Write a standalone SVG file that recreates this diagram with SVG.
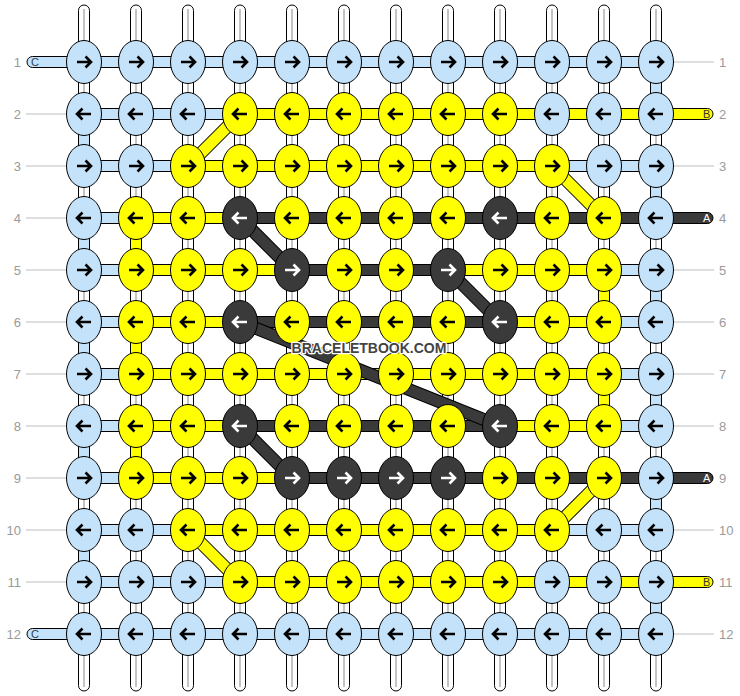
<svg xmlns="http://www.w3.org/2000/svg" xmlns:xlink="http://www.w3.org/1999/xlink" width="740" height="696" viewBox="0 0 740 696">
<style>
.warp{fill:#fff;stroke:#000;stroke-width:1}
.wl{stroke:#c4c4c4;stroke-width:2}
.bC{fill:#c4e3fb;stroke:#000;stroke-width:1}
.bY{fill:#ffff00;stroke:#000;stroke-width:1}
.bD{fill:#3a3a3a;stroke:#000;stroke-width:1}
.dk{stroke:#000;stroke-width:13}
.dY{stroke:#ffff00;stroke-width:11}
.dD{stroke:#3a3a3a;stroke-width:11}
.c{fill:#c4e3fb;stroke:#000;stroke-width:1}
.y{fill:#ffff00;stroke:#000;stroke-width:1}
.d{fill:#3a3a3a;stroke:#000;stroke-width:1}
.k{stroke:#000}
.w{stroke:#fff}
.lab{font-family:"Liberation Sans",Arial,sans-serif;font-size:13px;fill:#9a9a9a}
.gl{stroke:#bdbdbd;stroke-width:1}
.tl{font-family:"Liberation Sans",Arial,sans-serif;font-size:11px}
.wm{font-family:"Liberation Sans",Arial,sans-serif;font-size:14px;font-weight:bold;fill:#444;stroke:#fff;stroke-width:2.5;paint-order:stroke;stroke-linejoin:round}
</style>
<defs>
<path id="ar" d="M-7 0H6.5M1.5-5.5L7 0L1.5 5.5" fill="none" stroke-width="2.6"/>
<path id="al" d="M7 0H-6.5M-1.5-5.5L-7 0L-1.5 5.5" fill="none" stroke-width="2.6"/>
</defs>
<g id="labels">
<g class="gl">
<line x1="26" y1="114" x2="70" y2="114"/><line x1="26" y1="166" x2="70" y2="166"/><line x1="26" y1="218" x2="70" y2="218"/><line x1="26" y1="270" x2="70" y2="270"/><line x1="26" y1="322" x2="70" y2="322"/><line x1="26" y1="374" x2="70" y2="374"/><line x1="26" y1="426" x2="70" y2="426"/><line x1="26" y1="478" x2="70" y2="478"/><line x1="26" y1="530" x2="70" y2="530"/><line x1="26" y1="582" x2="70" y2="582"/>
<line x1="670" y1="62" x2="714" y2="62"/><line x1="670" y1="166" x2="714" y2="166"/><line x1="670" y1="270" x2="714" y2="270"/><line x1="670" y1="322" x2="714" y2="322"/><line x1="670" y1="374" x2="714" y2="374"/><line x1="670" y1="426" x2="714" y2="426"/><line x1="670" y1="530" x2="714" y2="530"/><line x1="670" y1="634" x2="714" y2="634"/>
</g>
<g class="lab" text-anchor="end">
<text x="21" y="67">1</text><text x="21" y="119">2</text><text x="21" y="171">3</text><text x="21" y="223">4</text><text x="21" y="275">5</text><text x="21" y="327">6</text><text x="21" y="379">7</text><text x="21" y="431">8</text><text x="21" y="483">9</text><text x="21" y="535">10</text><text x="21" y="587">11</text><text x="21" y="639">12</text>
</g>
<g class="lab">
<text x="719" y="67">1</text><text x="719" y="119">2</text><text x="719" y="171">3</text><text x="719" y="223">4</text><text x="719" y="275">5</text><text x="719" y="327">6</text><text x="719" y="379">7</text><text x="719" y="431">8</text><text x="719" y="483">9</text><text x="719" y="535">10</text><text x="719" y="587">11</text><text x="719" y="639">12</text>
</g>
</g>
<g id="connectors">
<g id="warps">
<rect class="warp" x="78.5" y="5" width="11" height="686" rx="5.5"/><rect class="warp" x="130.5" y="5" width="11" height="686" rx="5.5"/><rect class="warp" x="182.5" y="5" width="11" height="686" rx="5.5"/><rect class="warp" x="234.5" y="5" width="11" height="686" rx="5.5"/><rect class="warp" x="286.5" y="5" width="11" height="686" rx="5.5"/><rect class="warp" x="338.5" y="5" width="11" height="686" rx="5.5"/><rect class="warp" x="390.5" y="5" width="11" height="686" rx="5.5"/><rect class="warp" x="442.5" y="5" width="11" height="686" rx="5.5"/><rect class="warp" x="494.5" y="5" width="11" height="686" rx="5.5"/><rect class="warp" x="546.5" y="5" width="11" height="686" rx="5.5"/><rect class="warp" x="598.5" y="5" width="11" height="686" rx="5.5"/><rect class="warp" x="650.5" y="5" width="11" height="686" rx="5.5"/>
<g class="wl"><line x1="84" y1="9" x2="84" y2="687"/><line x1="136" y1="9" x2="136" y2="687"/><line x1="188" y1="9" x2="188" y2="687"/><line x1="240" y1="9" x2="240" y2="687"/><line x1="292" y1="9" x2="292" y2="687"/><line x1="344" y1="9" x2="344" y2="687"/><line x1="396" y1="9" x2="396" y2="687"/><line x1="448" y1="9" x2="448" y2="687"/><line x1="500" y1="9" x2="500" y2="687"/><line x1="552" y1="9" x2="552" y2="687"/><line x1="604" y1="9" x2="604" y2="687"/><line x1="656" y1="9" x2="656" y2="687"/></g>
</g>
<g id="threadC">
<rect class="bC" x="78.5" y="128" width="11" height="24"/><rect class="bC" x="78.5" y="232" width="11" height="24"/><rect class="bC" x="78.5" y="336" width="11" height="24"/><rect class="bC" x="78.5" y="440" width="11" height="24"/><rect class="bC" x="78.5" y="544" width="11" height="24"/>
<rect class="bC" x="650.5" y="76" width="11" height="24"/><rect class="bC" x="650.5" y="180" width="11" height="24"/><rect class="bC" x="650.5" y="284" width="11" height="24"/><rect class="bC" x="650.5" y="388" width="11" height="24"/><rect class="bC" x="650.5" y="492" width="11" height="24"/><rect class="bC" x="650.5" y="596" width="11" height="24"/>
<rect class="bC" x="27" y="56.5" width="629" height="11" rx="5.5"/>
<rect class="bC" x="84" y="108.5" width="156" height="11"/>
<rect class="bC" x="84" y="160.5" width="104" height="11"/><rect class="bC" x="552" y="160.5" width="104" height="11"/>
<rect class="bC" x="84" y="212.5" width="52" height="11"/>
<rect class="bC" x="84" y="264.5" width="52" height="11"/><rect class="bC" x="604" y="264.5" width="52" height="11"/>
<rect class="bC" x="84" y="316.5" width="52" height="11"/><rect class="bC" x="604" y="316.5" width="52" height="11"/>
<rect class="bC" x="84" y="368.5" width="52" height="11"/><rect class="bC" x="604" y="368.5" width="52" height="11"/>
<rect class="bC" x="84" y="420.5" width="52" height="11"/><rect class="bC" x="604" y="420.5" width="52" height="11"/>
<rect class="bC" x="84" y="472.5" width="52" height="11"/>
<rect class="bC" x="84" y="524.5" width="104" height="11"/><rect class="bC" x="552" y="524.5" width="104" height="11"/>
<rect class="bC" x="84" y="576.5" width="156" height="11"/>
<rect class="bC" x="27" y="628.5" width="629" height="11" rx="5.5"/>
</g>
<g id="threadB">
<rect class="bY" x="130.5" y="232" width="11" height="24"/><rect class="bY" x="130.5" y="336" width="11" height="24"/><rect class="bY" x="130.5" y="440" width="11" height="24"/>
<rect class="bY" x="598.5" y="284" width="11" height="24"/><rect class="bY" x="598.5" y="388" width="11" height="24"/>
<rect class="bY" x="240" y="108.5" width="473" height="11" rx="5.5"/>
<rect class="bY" x="188" y="160.5" width="364" height="11"/>
<rect class="bY" x="136" y="212.5" width="104" height="11"/>
<rect class="bY" x="136" y="264.5" width="156" height="11"/><rect class="bY" x="448" y="264.5" width="156" height="11"/>
<rect class="bY" x="136" y="316.5" width="104" height="11"/><rect class="bY" x="500" y="316.5" width="104" height="11"/>
<rect class="bY" x="136" y="368.5" width="468" height="11"/>
<rect class="bY" x="136" y="420.5" width="104" height="11"/><rect class="bY" x="500" y="420.5" width="104" height="11"/>
<rect class="bY" x="136" y="472.5" width="156" height="11"/>
<rect class="bY" x="188" y="524.5" width="364" height="11"/>
<rect class="bY" x="240" y="576.5" width="473" height="11" rx="5.5"/>
<g class="dk"><line x1="240" y1="114" x2="188" y2="166"/><line x1="552" y1="166" x2="604" y2="218"/><line x1="604" y1="478" x2="552" y2="530"/><line x1="188" y1="530" x2="240" y2="582"/></g>
<g class="dY"><line x1="240" y1="114" x2="188" y2="166"/><line x1="552" y1="166" x2="604" y2="218"/><line x1="604" y1="478" x2="552" y2="530"/><line x1="188" y1="530" x2="240" y2="582"/></g>
</g>
<g id="threadA">
<rect class="bD" x="240" y="212.5" width="473" height="11" rx="5.5"/>
<rect class="bD" x="292" y="264.5" width="156" height="11"/>
<rect class="bD" x="240" y="316.5" width="260" height="11"/>
<rect class="bD" x="240" y="420.5" width="260" height="11"/>
<rect class="bD" x="292" y="472.5" width="421" height="11" rx="5.5"/>
<g class="dk"><line x1="240" y1="218" x2="292" y2="270"/><line x1="448" y1="270" x2="500" y2="322"/><line x1="240" y1="322" x2="500" y2="426"/><line x1="240" y1="426" x2="292" y2="478"/></g>
<g class="dD"><line x1="240" y1="218" x2="292" y2="270"/><line x1="448" y1="270" x2="500" y2="322"/><line x1="240" y1="322" x2="500" y2="426"/><line x1="240" y1="426" x2="292" y2="478"/></g>
</g>
</g>
<g id="tail-labels" class="tl">
<text x="31" y="66" fill="#2c3e50">C</text>
<text x="31" y="638" fill="#2c3e50">C</text>
<text x="703" y="118" fill="#333">B</text>
<text x="703" y="586" fill="#333">B</text>
<text x="703" y="222" fill="#fff">A</text>
<text x="703" y="482" fill="#fff">A</text>
</g>
<g id="nodes">
<g id="r1c1"><ellipse class="c" cx="84" cy="62" rx="17.5" ry="21.5"/><use href="#ar" x="84" y="62" class="k"/></g>
<g id="r1c2"><ellipse class="c" cx="136" cy="62" rx="17.5" ry="21.5"/><use href="#ar" x="136" y="62" class="k"/></g>
<g id="r1c3"><ellipse class="c" cx="188" cy="62" rx="17.5" ry="21.5"/><use href="#ar" x="188" y="62" class="k"/></g>
<g id="r1c4"><ellipse class="c" cx="240" cy="62" rx="17.5" ry="21.5"/><use href="#ar" x="240" y="62" class="k"/></g>
<g id="r1c5"><ellipse class="c" cx="292" cy="62" rx="17.5" ry="21.5"/><use href="#ar" x="292" y="62" class="k"/></g>
<g id="r1c6"><ellipse class="c" cx="344" cy="62" rx="17.5" ry="21.5"/><use href="#ar" x="344" y="62" class="k"/></g>
<g id="r1c7"><ellipse class="c" cx="396" cy="62" rx="17.5" ry="21.5"/><use href="#ar" x="396" y="62" class="k"/></g>
<g id="r1c8"><ellipse class="c" cx="448" cy="62" rx="17.5" ry="21.5"/><use href="#ar" x="448" y="62" class="k"/></g>
<g id="r1c9"><ellipse class="c" cx="500" cy="62" rx="17.5" ry="21.5"/><use href="#ar" x="500" y="62" class="k"/></g>
<g id="r1c10"><ellipse class="c" cx="552" cy="62" rx="17.5" ry="21.5"/><use href="#ar" x="552" y="62" class="k"/></g>
<g id="r1c11"><ellipse class="c" cx="604" cy="62" rx="17.5" ry="21.5"/><use href="#ar" x="604" y="62" class="k"/></g>
<g id="r1c12"><ellipse class="c" cx="656" cy="62" rx="17.5" ry="21.5"/><use href="#ar" x="656" y="62" class="k"/></g>
<g id="r2c1"><ellipse class="c" cx="84" cy="114" rx="17.5" ry="21.5"/><use href="#al" x="84" y="114" class="k"/></g>
<g id="r2c2"><ellipse class="c" cx="136" cy="114" rx="17.5" ry="21.5"/><use href="#al" x="136" y="114" class="k"/></g>
<g id="r2c3"><ellipse class="c" cx="188" cy="114" rx="17.5" ry="21.5"/><use href="#al" x="188" y="114" class="k"/></g>
<g id="r2c4"><ellipse class="y" cx="240" cy="114" rx="17.5" ry="21.5"/><use href="#al" x="240" y="114" class="k"/></g>
<g id="r2c5"><ellipse class="y" cx="292" cy="114" rx="17.5" ry="21.5"/><use href="#al" x="292" y="114" class="k"/></g>
<g id="r2c6"><ellipse class="y" cx="344" cy="114" rx="17.5" ry="21.5"/><use href="#al" x="344" y="114" class="k"/></g>
<g id="r2c7"><ellipse class="y" cx="396" cy="114" rx="17.5" ry="21.5"/><use href="#al" x="396" y="114" class="k"/></g>
<g id="r2c8"><ellipse class="y" cx="448" cy="114" rx="17.5" ry="21.5"/><use href="#al" x="448" y="114" class="k"/></g>
<g id="r2c9"><ellipse class="y" cx="500" cy="114" rx="17.5" ry="21.5"/><use href="#al" x="500" y="114" class="k"/></g>
<g id="r2c10"><ellipse class="c" cx="552" cy="114" rx="17.5" ry="21.5"/><use href="#al" x="552" y="114" class="k"/></g>
<g id="r2c11"><ellipse class="c" cx="604" cy="114" rx="17.5" ry="21.5"/><use href="#al" x="604" y="114" class="k"/></g>
<g id="r2c12"><ellipse class="c" cx="656" cy="114" rx="17.5" ry="21.5"/><use href="#al" x="656" y="114" class="k"/></g>
<g id="r3c1"><ellipse class="c" cx="84" cy="166" rx="17.5" ry="21.5"/><use href="#ar" x="84" y="166" class="k"/></g>
<g id="r3c2"><ellipse class="c" cx="136" cy="166" rx="17.5" ry="21.5"/><use href="#ar" x="136" y="166" class="k"/></g>
<g id="r3c3"><ellipse class="y" cx="188" cy="166" rx="17.5" ry="21.5"/><use href="#ar" x="188" y="166" class="k"/></g>
<g id="r3c4"><ellipse class="y" cx="240" cy="166" rx="17.5" ry="21.5"/><use href="#ar" x="240" y="166" class="k"/></g>
<g id="r3c5"><ellipse class="y" cx="292" cy="166" rx="17.5" ry="21.5"/><use href="#ar" x="292" y="166" class="k"/></g>
<g id="r3c6"><ellipse class="y" cx="344" cy="166" rx="17.5" ry="21.5"/><use href="#ar" x="344" y="166" class="k"/></g>
<g id="r3c7"><ellipse class="y" cx="396" cy="166" rx="17.5" ry="21.5"/><use href="#ar" x="396" y="166" class="k"/></g>
<g id="r3c8"><ellipse class="y" cx="448" cy="166" rx="17.5" ry="21.5"/><use href="#ar" x="448" y="166" class="k"/></g>
<g id="r3c9"><ellipse class="y" cx="500" cy="166" rx="17.5" ry="21.5"/><use href="#ar" x="500" y="166" class="k"/></g>
<g id="r3c10"><ellipse class="y" cx="552" cy="166" rx="17.5" ry="21.5"/><use href="#ar" x="552" y="166" class="k"/></g>
<g id="r3c11"><ellipse class="c" cx="604" cy="166" rx="17.5" ry="21.5"/><use href="#ar" x="604" y="166" class="k"/></g>
<g id="r3c12"><ellipse class="c" cx="656" cy="166" rx="17.5" ry="21.5"/><use href="#ar" x="656" y="166" class="k"/></g>
<g id="r4c1"><ellipse class="c" cx="84" cy="218" rx="17.5" ry="21.5"/><use href="#al" x="84" y="218" class="k"/></g>
<g id="r4c2"><ellipse class="y" cx="136" cy="218" rx="17.5" ry="21.5"/><use href="#al" x="136" y="218" class="k"/></g>
<g id="r4c3"><ellipse class="y" cx="188" cy="218" rx="17.5" ry="21.5"/><use href="#al" x="188" y="218" class="k"/></g>
<g id="r4c4"><ellipse class="d" cx="240" cy="218" rx="17.5" ry="21.5"/><use href="#al" x="240" y="218" class="w"/></g>
<g id="r4c5"><ellipse class="y" cx="292" cy="218" rx="17.5" ry="21.5"/><use href="#al" x="292" y="218" class="k"/></g>
<g id="r4c6"><ellipse class="y" cx="344" cy="218" rx="17.5" ry="21.5"/><use href="#al" x="344" y="218" class="k"/></g>
<g id="r4c7"><ellipse class="y" cx="396" cy="218" rx="17.5" ry="21.5"/><use href="#al" x="396" y="218" class="k"/></g>
<g id="r4c8"><ellipse class="y" cx="448" cy="218" rx="17.5" ry="21.5"/><use href="#al" x="448" y="218" class="k"/></g>
<g id="r4c9"><ellipse class="d" cx="500" cy="218" rx="17.5" ry="21.5"/><use href="#al" x="500" y="218" class="w"/></g>
<g id="r4c10"><ellipse class="y" cx="552" cy="218" rx="17.5" ry="21.5"/><use href="#al" x="552" y="218" class="k"/></g>
<g id="r4c11"><ellipse class="y" cx="604" cy="218" rx="17.5" ry="21.5"/><use href="#al" x="604" y="218" class="k"/></g>
<g id="r4c12"><ellipse class="c" cx="656" cy="218" rx="17.5" ry="21.5"/><use href="#al" x="656" y="218" class="k"/></g>
<g id="r5c1"><ellipse class="c" cx="84" cy="270" rx="17.5" ry="21.5"/><use href="#ar" x="84" y="270" class="k"/></g>
<g id="r5c2"><ellipse class="y" cx="136" cy="270" rx="17.5" ry="21.5"/><use href="#ar" x="136" y="270" class="k"/></g>
<g id="r5c3"><ellipse class="y" cx="188" cy="270" rx="17.5" ry="21.5"/><use href="#ar" x="188" y="270" class="k"/></g>
<g id="r5c4"><ellipse class="y" cx="240" cy="270" rx="17.5" ry="21.5"/><use href="#ar" x="240" y="270" class="k"/></g>
<g id="r5c5"><ellipse class="d" cx="292" cy="270" rx="17.5" ry="21.5"/><use href="#ar" x="292" y="270" class="w"/></g>
<g id="r5c6"><ellipse class="y" cx="344" cy="270" rx="17.5" ry="21.5"/><use href="#ar" x="344" y="270" class="k"/></g>
<g id="r5c7"><ellipse class="y" cx="396" cy="270" rx="17.5" ry="21.5"/><use href="#ar" x="396" y="270" class="k"/></g>
<g id="r5c8"><ellipse class="d" cx="448" cy="270" rx="17.5" ry="21.5"/><use href="#ar" x="448" y="270" class="w"/></g>
<g id="r5c9"><ellipse class="y" cx="500" cy="270" rx="17.5" ry="21.5"/><use href="#ar" x="500" y="270" class="k"/></g>
<g id="r5c10"><ellipse class="y" cx="552" cy="270" rx="17.5" ry="21.5"/><use href="#ar" x="552" y="270" class="k"/></g>
<g id="r5c11"><ellipse class="y" cx="604" cy="270" rx="17.5" ry="21.5"/><use href="#ar" x="604" y="270" class="k"/></g>
<g id="r5c12"><ellipse class="c" cx="656" cy="270" rx="17.5" ry="21.5"/><use href="#ar" x="656" y="270" class="k"/></g>
<g id="r6c1"><ellipse class="c" cx="84" cy="322" rx="17.5" ry="21.5"/><use href="#al" x="84" y="322" class="k"/></g>
<g id="r6c2"><ellipse class="y" cx="136" cy="322" rx="17.5" ry="21.5"/><use href="#al" x="136" y="322" class="k"/></g>
<g id="r6c3"><ellipse class="y" cx="188" cy="322" rx="17.5" ry="21.5"/><use href="#al" x="188" y="322" class="k"/></g>
<g id="r6c4"><ellipse class="d" cx="240" cy="322" rx="17.5" ry="21.5"/><use href="#al" x="240" y="322" class="w"/></g>
<g id="r6c5"><ellipse class="y" cx="292" cy="322" rx="17.5" ry="21.5"/><use href="#al" x="292" y="322" class="k"/></g>
<g id="r6c6"><ellipse class="y" cx="344" cy="322" rx="17.5" ry="21.5"/><use href="#al" x="344" y="322" class="k"/></g>
<g id="r6c7"><ellipse class="y" cx="396" cy="322" rx="17.5" ry="21.5"/><use href="#al" x="396" y="322" class="k"/></g>
<g id="r6c8"><ellipse class="y" cx="448" cy="322" rx="17.5" ry="21.5"/><use href="#al" x="448" y="322" class="k"/></g>
<g id="r6c9"><ellipse class="d" cx="500" cy="322" rx="17.5" ry="21.5"/><use href="#al" x="500" y="322" class="w"/></g>
<g id="r6c10"><ellipse class="y" cx="552" cy="322" rx="17.5" ry="21.5"/><use href="#al" x="552" y="322" class="k"/></g>
<g id="r6c11"><ellipse class="y" cx="604" cy="322" rx="17.5" ry="21.5"/><use href="#al" x="604" y="322" class="k"/></g>
<g id="r6c12"><ellipse class="c" cx="656" cy="322" rx="17.5" ry="21.5"/><use href="#al" x="656" y="322" class="k"/></g>
<g id="r7c1"><ellipse class="c" cx="84" cy="374" rx="17.5" ry="21.5"/><use href="#ar" x="84" y="374" class="k"/></g>
<g id="r7c2"><ellipse class="y" cx="136" cy="374" rx="17.5" ry="21.5"/><use href="#ar" x="136" y="374" class="k"/></g>
<g id="r7c3"><ellipse class="y" cx="188" cy="374" rx="17.5" ry="21.5"/><use href="#ar" x="188" y="374" class="k"/></g>
<g id="r7c4"><ellipse class="y" cx="240" cy="374" rx="17.5" ry="21.5"/><use href="#ar" x="240" y="374" class="k"/></g>
<g id="r7c5"><ellipse class="y" cx="292" cy="374" rx="17.5" ry="21.5"/><use href="#ar" x="292" y="374" class="k"/></g>
<g id="r7c6"><ellipse class="y" cx="344" cy="374" rx="17.5" ry="21.5"/><use href="#ar" x="344" y="374" class="k"/></g>
<g id="r7c7"><ellipse class="y" cx="396" cy="374" rx="17.5" ry="21.5"/><use href="#ar" x="396" y="374" class="k"/></g>
<g id="r7c8"><ellipse class="y" cx="448" cy="374" rx="17.5" ry="21.5"/><use href="#ar" x="448" y="374" class="k"/></g>
<g id="r7c9"><ellipse class="y" cx="500" cy="374" rx="17.5" ry="21.5"/><use href="#ar" x="500" y="374" class="k"/></g>
<g id="r7c10"><ellipse class="y" cx="552" cy="374" rx="17.5" ry="21.5"/><use href="#ar" x="552" y="374" class="k"/></g>
<g id="r7c11"><ellipse class="y" cx="604" cy="374" rx="17.5" ry="21.5"/><use href="#ar" x="604" y="374" class="k"/></g>
<g id="r7c12"><ellipse class="c" cx="656" cy="374" rx="17.5" ry="21.5"/><use href="#ar" x="656" y="374" class="k"/></g>
<g id="r8c1"><ellipse class="c" cx="84" cy="426" rx="17.5" ry="21.5"/><use href="#al" x="84" y="426" class="k"/></g>
<g id="r8c2"><ellipse class="y" cx="136" cy="426" rx="17.5" ry="21.5"/><use href="#al" x="136" y="426" class="k"/></g>
<g id="r8c3"><ellipse class="y" cx="188" cy="426" rx="17.5" ry="21.5"/><use href="#al" x="188" y="426" class="k"/></g>
<g id="r8c4"><ellipse class="d" cx="240" cy="426" rx="17.5" ry="21.5"/><use href="#al" x="240" y="426" class="w"/></g>
<g id="r8c5"><ellipse class="y" cx="292" cy="426" rx="17.5" ry="21.5"/><use href="#al" x="292" y="426" class="k"/></g>
<g id="r8c6"><ellipse class="y" cx="344" cy="426" rx="17.5" ry="21.5"/><use href="#al" x="344" y="426" class="k"/></g>
<g id="r8c7"><ellipse class="y" cx="396" cy="426" rx="17.5" ry="21.5"/><use href="#al" x="396" y="426" class="k"/></g>
<g id="r8c8"><ellipse class="y" cx="448" cy="426" rx="17.5" ry="21.5"/><use href="#al" x="448" y="426" class="k"/></g>
<g id="r8c9"><ellipse class="d" cx="500" cy="426" rx="17.5" ry="21.5"/><use href="#al" x="500" y="426" class="w"/></g>
<g id="r8c10"><ellipse class="y" cx="552" cy="426" rx="17.5" ry="21.5"/><use href="#al" x="552" y="426" class="k"/></g>
<g id="r8c11"><ellipse class="y" cx="604" cy="426" rx="17.5" ry="21.5"/><use href="#al" x="604" y="426" class="k"/></g>
<g id="r8c12"><ellipse class="c" cx="656" cy="426" rx="17.5" ry="21.5"/><use href="#al" x="656" y="426" class="k"/></g>
<g id="r9c1"><ellipse class="c" cx="84" cy="478" rx="17.5" ry="21.5"/><use href="#ar" x="84" y="478" class="k"/></g>
<g id="r9c2"><ellipse class="y" cx="136" cy="478" rx="17.5" ry="21.5"/><use href="#ar" x="136" y="478" class="k"/></g>
<g id="r9c3"><ellipse class="y" cx="188" cy="478" rx="17.5" ry="21.5"/><use href="#ar" x="188" y="478" class="k"/></g>
<g id="r9c4"><ellipse class="y" cx="240" cy="478" rx="17.5" ry="21.5"/><use href="#ar" x="240" y="478" class="k"/></g>
<g id="r9c5"><ellipse class="d" cx="292" cy="478" rx="17.5" ry="21.5"/><use href="#ar" x="292" y="478" class="w"/></g>
<g id="r9c6"><ellipse class="d" cx="344" cy="478" rx="17.5" ry="21.5"/><use href="#ar" x="344" y="478" class="w"/></g>
<g id="r9c7"><ellipse class="d" cx="396" cy="478" rx="17.5" ry="21.5"/><use href="#ar" x="396" y="478" class="w"/></g>
<g id="r9c8"><ellipse class="d" cx="448" cy="478" rx="17.5" ry="21.5"/><use href="#ar" x="448" y="478" class="w"/></g>
<g id="r9c9"><ellipse class="y" cx="500" cy="478" rx="17.5" ry="21.5"/><use href="#ar" x="500" y="478" class="k"/></g>
<g id="r9c10"><ellipse class="y" cx="552" cy="478" rx="17.5" ry="21.5"/><use href="#ar" x="552" y="478" class="k"/></g>
<g id="r9c11"><ellipse class="y" cx="604" cy="478" rx="17.5" ry="21.5"/><use href="#ar" x="604" y="478" class="k"/></g>
<g id="r9c12"><ellipse class="c" cx="656" cy="478" rx="17.5" ry="21.5"/><use href="#ar" x="656" y="478" class="k"/></g>
<g id="r10c1"><ellipse class="c" cx="84" cy="530" rx="17.5" ry="21.5"/><use href="#al" x="84" y="530" class="k"/></g>
<g id="r10c2"><ellipse class="c" cx="136" cy="530" rx="17.5" ry="21.5"/><use href="#al" x="136" y="530" class="k"/></g>
<g id="r10c3"><ellipse class="y" cx="188" cy="530" rx="17.5" ry="21.5"/><use href="#al" x="188" y="530" class="k"/></g>
<g id="r10c4"><ellipse class="y" cx="240" cy="530" rx="17.5" ry="21.5"/><use href="#al" x="240" y="530" class="k"/></g>
<g id="r10c5"><ellipse class="y" cx="292" cy="530" rx="17.5" ry="21.5"/><use href="#al" x="292" y="530" class="k"/></g>
<g id="r10c6"><ellipse class="y" cx="344" cy="530" rx="17.5" ry="21.5"/><use href="#al" x="344" y="530" class="k"/></g>
<g id="r10c7"><ellipse class="y" cx="396" cy="530" rx="17.5" ry="21.5"/><use href="#al" x="396" y="530" class="k"/></g>
<g id="r10c8"><ellipse class="y" cx="448" cy="530" rx="17.5" ry="21.5"/><use href="#al" x="448" y="530" class="k"/></g>
<g id="r10c9"><ellipse class="y" cx="500" cy="530" rx="17.5" ry="21.5"/><use href="#al" x="500" y="530" class="k"/></g>
<g id="r10c10"><ellipse class="y" cx="552" cy="530" rx="17.5" ry="21.5"/><use href="#al" x="552" y="530" class="k"/></g>
<g id="r10c11"><ellipse class="c" cx="604" cy="530" rx="17.5" ry="21.5"/><use href="#al" x="604" y="530" class="k"/></g>
<g id="r10c12"><ellipse class="c" cx="656" cy="530" rx="17.5" ry="21.5"/><use href="#al" x="656" y="530" class="k"/></g>
<g id="r11c1"><ellipse class="c" cx="84" cy="582" rx="17.5" ry="21.5"/><use href="#ar" x="84" y="582" class="k"/></g>
<g id="r11c2"><ellipse class="c" cx="136" cy="582" rx="17.5" ry="21.5"/><use href="#ar" x="136" y="582" class="k"/></g>
<g id="r11c3"><ellipse class="c" cx="188" cy="582" rx="17.5" ry="21.5"/><use href="#ar" x="188" y="582" class="k"/></g>
<g id="r11c4"><ellipse class="y" cx="240" cy="582" rx="17.5" ry="21.5"/><use href="#ar" x="240" y="582" class="k"/></g>
<g id="r11c5"><ellipse class="y" cx="292" cy="582" rx="17.5" ry="21.5"/><use href="#ar" x="292" y="582" class="k"/></g>
<g id="r11c6"><ellipse class="y" cx="344" cy="582" rx="17.5" ry="21.5"/><use href="#ar" x="344" y="582" class="k"/></g>
<g id="r11c7"><ellipse class="y" cx="396" cy="582" rx="17.5" ry="21.5"/><use href="#ar" x="396" y="582" class="k"/></g>
<g id="r11c8"><ellipse class="y" cx="448" cy="582" rx="17.5" ry="21.5"/><use href="#ar" x="448" y="582" class="k"/></g>
<g id="r11c9"><ellipse class="y" cx="500" cy="582" rx="17.5" ry="21.5"/><use href="#ar" x="500" y="582" class="k"/></g>
<g id="r11c10"><ellipse class="c" cx="552" cy="582" rx="17.5" ry="21.5"/><use href="#ar" x="552" y="582" class="k"/></g>
<g id="r11c11"><ellipse class="c" cx="604" cy="582" rx="17.5" ry="21.5"/><use href="#ar" x="604" y="582" class="k"/></g>
<g id="r11c12"><ellipse class="c" cx="656" cy="582" rx="17.5" ry="21.5"/><use href="#ar" x="656" y="582" class="k"/></g>
<g id="r12c1"><ellipse class="c" cx="84" cy="634" rx="17.5" ry="21.5"/><use href="#al" x="84" y="634" class="k"/></g>
<g id="r12c2"><ellipse class="c" cx="136" cy="634" rx="17.5" ry="21.5"/><use href="#al" x="136" y="634" class="k"/></g>
<g id="r12c3"><ellipse class="c" cx="188" cy="634" rx="17.5" ry="21.5"/><use href="#al" x="188" y="634" class="k"/></g>
<g id="r12c4"><ellipse class="c" cx="240" cy="634" rx="17.5" ry="21.5"/><use href="#al" x="240" y="634" class="k"/></g>
<g id="r12c5"><ellipse class="c" cx="292" cy="634" rx="17.5" ry="21.5"/><use href="#al" x="292" y="634" class="k"/></g>
<g id="r12c6"><ellipse class="c" cx="344" cy="634" rx="17.5" ry="21.5"/><use href="#al" x="344" y="634" class="k"/></g>
<g id="r12c7"><ellipse class="c" cx="396" cy="634" rx="17.5" ry="21.5"/><use href="#al" x="396" y="634" class="k"/></g>
<g id="r12c8"><ellipse class="c" cx="448" cy="634" rx="17.5" ry="21.5"/><use href="#al" x="448" y="634" class="k"/></g>
<g id="r12c9"><ellipse class="c" cx="500" cy="634" rx="17.5" ry="21.5"/><use href="#al" x="500" y="634" class="k"/></g>
<g id="r12c10"><ellipse class="c" cx="552" cy="634" rx="17.5" ry="21.5"/><use href="#al" x="552" y="634" class="k"/></g>
<g id="r12c11"><ellipse class="c" cx="604" cy="634" rx="17.5" ry="21.5"/><use href="#al" x="604" y="634" class="k"/></g>
<g id="r12c12"><ellipse class="c" cx="656" cy="634" rx="17.5" ry="21.5"/><use href="#al" x="656" y="634" class="k"/></g>
</g>
<text class="wm" x="369" y="353" text-anchor="middle">BRACELETBOOK.COM</text>
</svg>
